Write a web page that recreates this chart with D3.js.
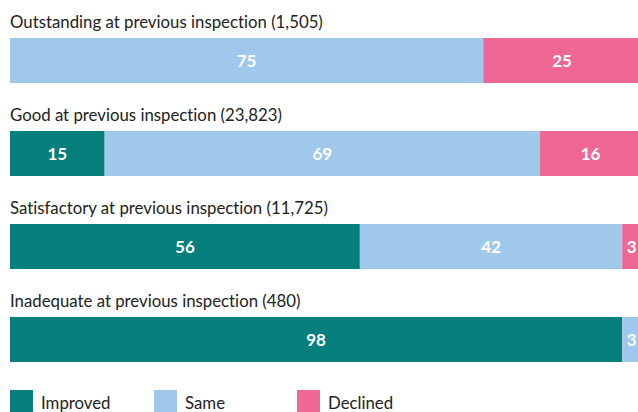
<!DOCTYPE html>
<html>
<head>
<meta charset="utf-8">
<script src="https://cdn.jsdelivr.net/npm/d3@7/dist/d3.min.js"></script>
<style>
  html, body { margin: 0; padding: 0; background: #fff; }
  svg { display: block; font-family: Lato, "Noto Sans", sans-serif; font-variant-ligatures: none; }
</style>
</head>
<body>
<svg id="chart" width="638" height="412"></svg>
<script>
// previous rating groups and their counts
const groups = ["Outstanding", "Good", "Satisfactory", "Inadequate"];
const counts = ["1,505", "23,823", "11,725", "480"];

// percentages for each outcome
const improved = [0, 15, 56, 98];
const same = [75, 69, 42, 3];
const declined = [25, 16, 3, 0];

const keys = ["Improved", "Same", "Declined"];
const colors = ["#047f7c", "#a0c8ea", "#ef6795"];

const svg = d3.select("#chart");
const left = 10, barWidth = 631;

const data = groups.map((g, i) => ({
  group: g,
  count: counts[i],
  Improved: improved[i],
  Same: same[i],
  Declined: declined[i]
}));

const y = d3.scaleBand()
  .domain(groups)
  .range([38, 362])
  .paddingInner(48 / 93)
  .paddingOuter(0);
const barHeight = y.bandwidth();

const color = d3.scaleOrdinal().domain(keys).range(colors);

data.forEach(d => {
  const total = d3.sum(keys, k => d[k]);
  // each bar is normalised to fill the full width
  const x = d3.scaleLinear().domain([0, total]).range([left, left + barWidth]);
  const row = svg.append("g");
  const y0 = y(d.group);

  row.append("text")
    .attr("x", left)
    .attr("y", y0 - 10)
    .attr("fill", "#222")
    .style("font-size", "16.8px")
    .text(`${d.group} at previous inspection (${d.count})`);

  let acc = 0;
  keys.forEach(k => {
    const v = d[k];
    if (v > 0) {
      row.append("rect")
        .attr("x", x(acc))
        .attr("y", y0)
        .attr("width", x(acc + v) - x(acc))
        .attr("height", barHeight)
        .attr("fill", color(k));
      row.append("text")
        .attr("x", (x(acc) + x(acc + v)) / 2)
        .attr("y", y0 + barHeight / 2 + 6)
        .attr("text-anchor", "middle")
        .attr("fill", "#fff")
        .style("font-size", "17px")
        .style("font-weight", "bold")
        .text(v);
    }
    acc += v;
  });
});

// legend
const legendX = [10, 154, 297];
const legend = svg.append("g");
keys.forEach((k, i) => {
  legend.append("rect")
    .attr("x", legendX[i])
    .attr("y", 390)
    .attr("width", 23)
    .attr("height", 23)
    .attr("fill", color(k));
  legend.append("text")
    .attr("x", legendX[i] + 31)
    .attr("y", 409)
    .attr("fill", "#222")
    .style("font-size", "16.8px")
    .text(k);
});
</script>
</body>
</html>
